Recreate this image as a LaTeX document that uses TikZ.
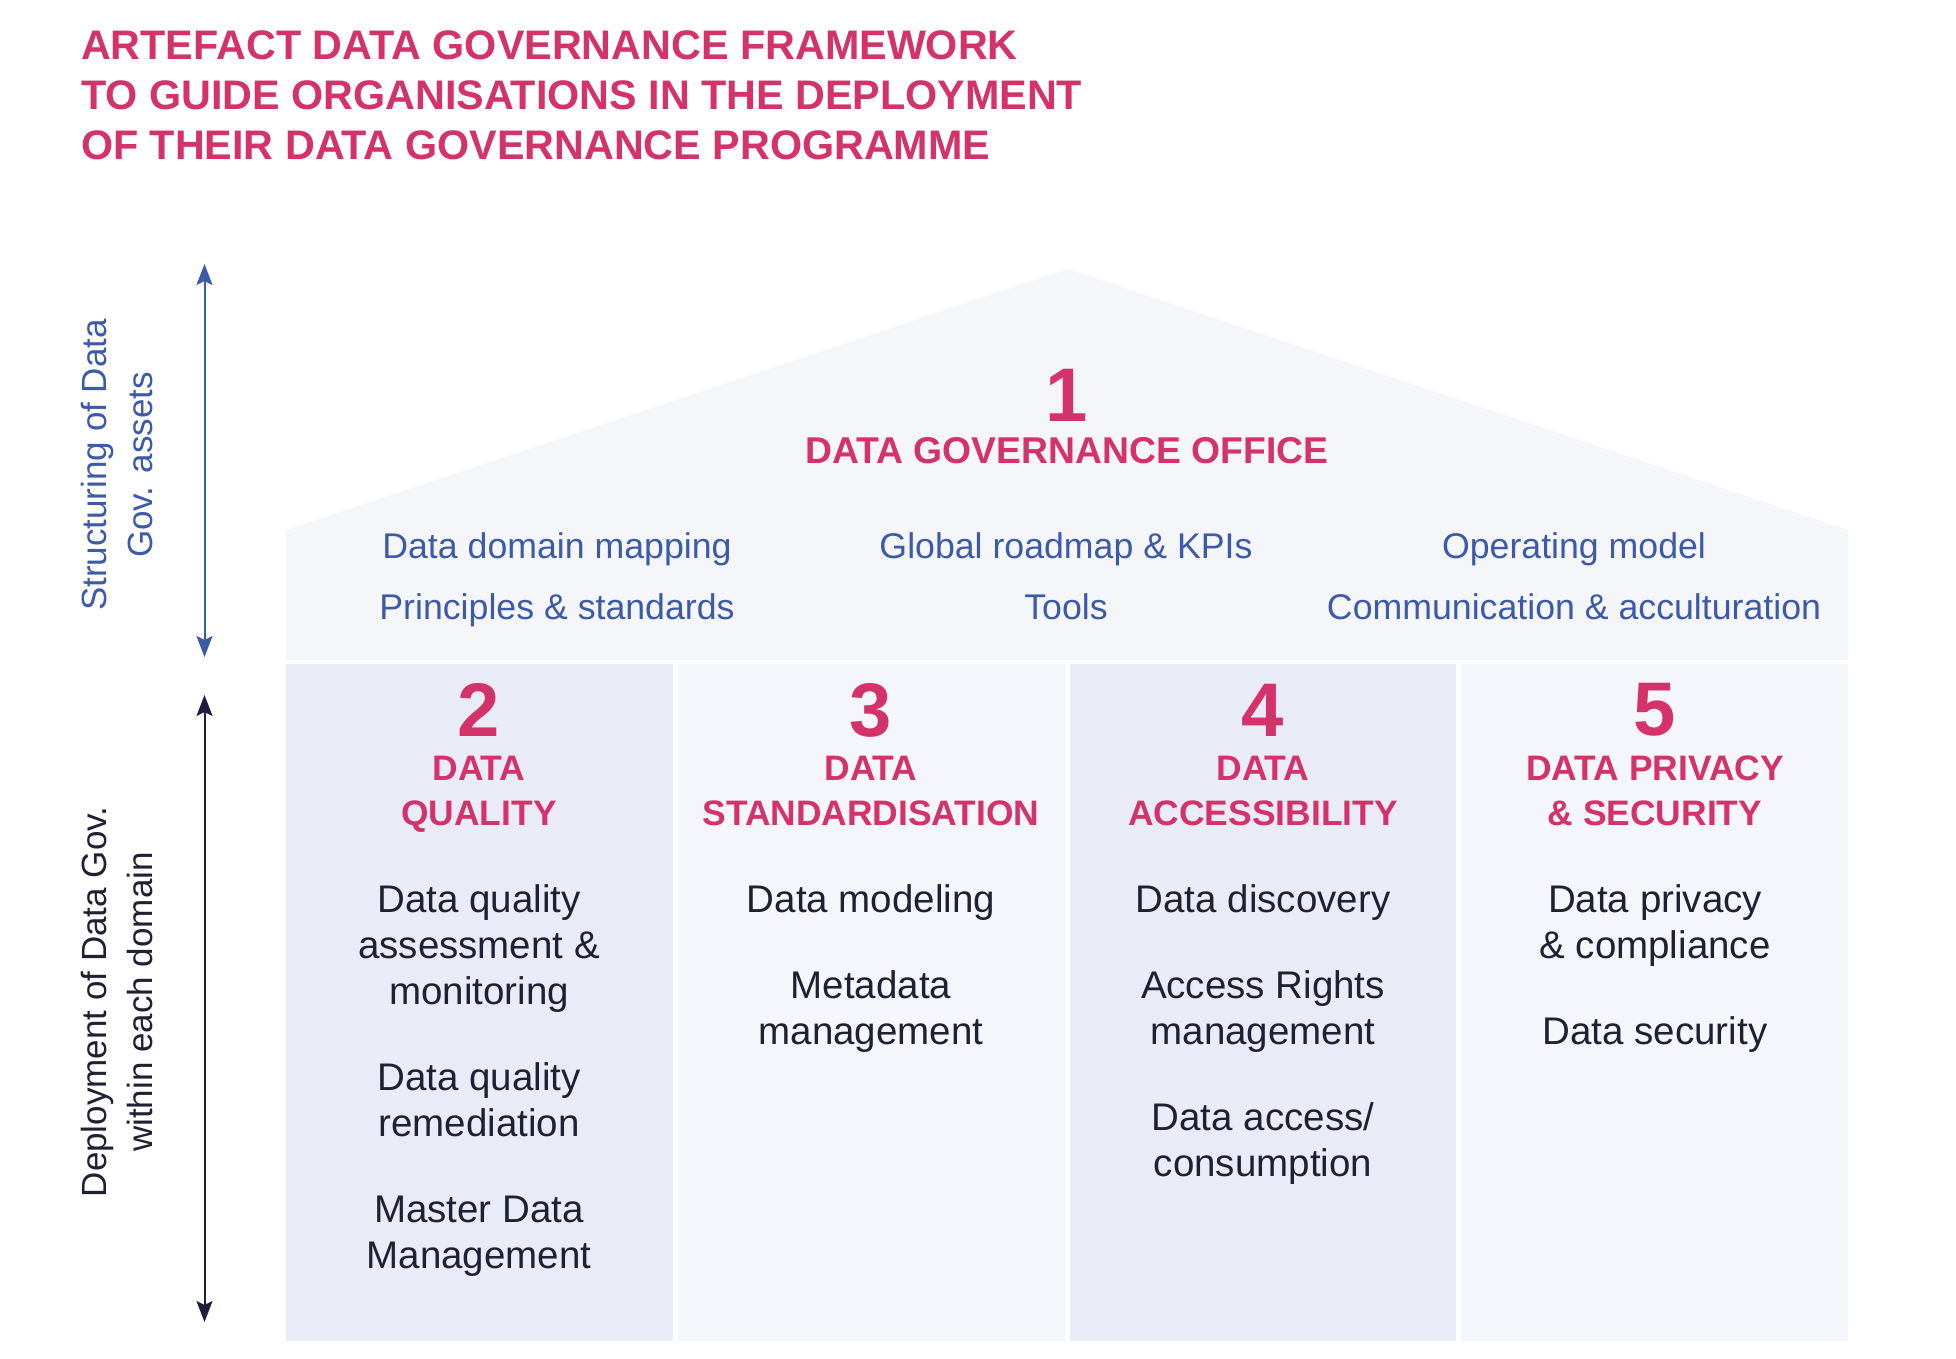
\documentclass[tikz,border=0pt]{standalone}
\usepackage{fontspec}
\setmainfont{Liberation Sans}
\usetikzlibrary{arrows.meta}
\definecolor{pinkc}{HTML}{D4336A}
\definecolor{bluet}{HTML}{3D5AA8}
\definecolor{darkt}{HTML}{1F2133}
\definecolor{darka}{HTML}{1C1E3C}
\definecolor{roofc}{HTML}{F5F6FA}
\definecolor{colA}{HTML}{E9ECF6}
\definecolor{colB}{HTML}{F4F6FB}
\begin{document}
\begin{tikzpicture}[x=1pt,y=-1pt,
  every node/.style={inner sep=0pt,outer sep=0pt},
  titletext/.style={anchor=north west,align=left,text=pinkc,font=\fontsize{41.3}{50}\bfseries\selectfont},
  bignum/.style={text=pinkc,font=\fontsize{76}{80}\bfseries\selectfont},
  pilltitle/.style={anchor=north,align=center,text=pinkc,font=\fontsize{35.4}{45}\bfseries\selectfont},
  officeitem/.style={anchor=north,text=bluet,font=\fontsize{35.7}{42}\selectfont},
  colitem/.style={anchor=north,align=center,text=darkt,font=\fontsize{38.5}{46}\selectfont},
  sidetext/.style={anchor=north,align=center,rotate=90,font=\fontsize{35}{46}\selectfont},
  colbox/.style={minimum width=386.75pt,minimum height=677pt,draw=none},
  bluearrow/.style={draw=bluet,line width=2pt,{Stealth[length=21pt,width=16pt,inset=4pt]}-{Stealth[length=21pt,width=16pt,inset=4pt]}},
  darkarrow/.style={draw=darka,line width=2pt,{Stealth[length=21pt,width=16pt,inset=4pt]}-{Stealth[length=21pt,width=16pt,inset=4pt]}}
]
\useasboundingbox (0,0) rectangle (1956,1358);
\fill[white] (0,0) rectangle (1956,1358);

% title
\node[titletext] (title) at (81,31) {ARTEFACT DATA GOVERNANCE FRAMEWORK\\TO GUIDE ORGANISATIONS IN THE DEPLOYMENT\\OF THEIR DATA GOVERNANCE PROGRAMME};

% house top (roof + office band)
\fill[roofc] (286,530) -- (1068,269) -- (1848,530) -- (1848,660) -- (286,660) -- cycle;

% columns
\node[colbox,fill=colA] (c2) at (479.375,1002.5) {};
\node[colbox,fill=colB] (c3) at (871.125,1002.5) {};
\node[colbox,fill=colA] (c4) at (1262.875,1002.5) {};
\node[colbox,fill=colB] (c5) at (1654.625,1002.5) {};

% side arrows
\coordinate (ta) at (204.5,264);
\coordinate (tb) at (204.5,657);
\coordinate (ba) at (204.5,695);
\coordinate (bb) at (204.5,1322);
\draw[bluearrow] (ta) -- (tb);
\draw[darkarrow] (ba) -- (bb);

% side texts
\node[sidetext,text=bluet] (sidetop) at (81,465) {Structuring of Data\\Gov. assets};
\node[sidetext,text=darkt] (sidebot) at (81,1002) {Deployment of Data Gov.\\within each domain};

% office
\node[bignum] (n1) at (1067,395) {1};
\node[text=pinkc,font=\fontsize{37.3}{42}\bfseries\selectfont] (office) at (1067,451) {DATA GOVERNANCE OFFICE};
\node[officeitem] (o1) at (557,532.5) {Data domain mapping};
\node[officeitem] (o2) at (557,593.5) {Principles \& standards};
\node[officeitem] (o3) at (1066,532.5) {Global roadmap \& KPIs};
\node[officeitem] (o4) at (1066,593.5) {Tools};
\node[officeitem] (o5) at (1574,532.5) {Operating model};
\node[officeitem] (o6) at (1574,593.5) {Communication \& acculturation};

% column 2
\node[bignum] (n2) at (479,710) {2};
\node[pilltitle] (t2) at (479,756) {DATA\\QUALITY};
\node[colitem] (i2a) at (479,885) {Data quality\\assessment \&\\monitoring};
\node[colitem] (i2b) at (479,1063) {Data quality\\remediation};
\node[colitem] (i2c) at (479,1196) {Master Data\\Management};

% column 3
\node[bignum] (n3) at (871,710) {3};
\node[pilltitle] (t3) at (871,756) {DATA\\STANDARDISATION};
\node[colitem] (i3a) at (871,885) {Data modeling};
\node[colitem] (i3b) at (871,971) {Metadata\\management};

% column 4
\node[bignum] (n4) at (1263,710) {4};
\node[pilltitle] (t4) at (1263,756) {DATA\\ACCESSIBILITY};
\node[colitem] (i4a) at (1263,885) {Data discovery};
\node[colitem] (i4b) at (1263,971) {Access Rights\\management};
\node[colitem] (i4c) at (1263,1103) {Data access/\\consumption};

% column 5
\node[bignum] (n5) at (1655,710) {5};
\node[pilltitle] (t5) at (1655,756) {DATA PRIVACY\\\& SECURITY};
\node[colitem] (i5a) at (1655,885) {Data privacy\\\& compliance};
\node[colitem] (i5b) at (1655,1017) {Data security};
\end{tikzpicture}
\end{document}
